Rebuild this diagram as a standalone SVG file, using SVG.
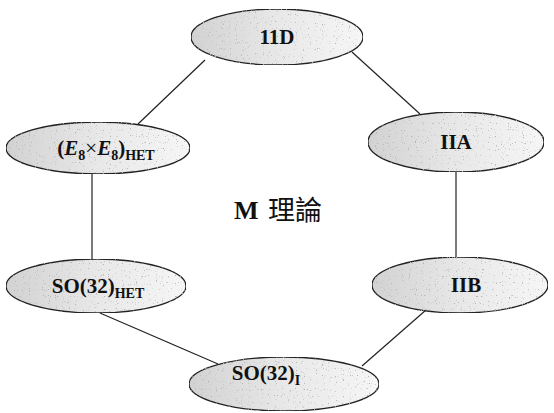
<svg xmlns="http://www.w3.org/2000/svg" width="554" height="413" viewBox="0 0 554 413">
<defs>
<linearGradient id="g" x1="0" y1="0" x2="1" y2="0">
<stop offset="0" stop-color="#d2d2d2"/>
<stop offset="0.5" stop-color="#e8e8e8"/>
<stop offset="1" stop-color="#f6f6f6"/>
</linearGradient>
<filter id="st" x="0" y="0" width="1" height="1">
<feTurbulence type="fractalNoise" baseFrequency="0.85" numOctaves="1" seed="4" result="n"/>
<feColorMatrix in="n" type="matrix" values="0 0 0 0 0.45  0 0 0 0 0.45  0 0 0 0 0.45  0 0 0 -10 3.5" result="d"/>
<feComposite in="d" in2="SourceGraphic" operator="in" result="dd"/>
<feMerge><feMergeNode in="SourceGraphic"/><feMergeNode in="dd"/></feMerge>
</filter>
<style>
.n{fill:url(#g);stroke:#222;stroke-width:1.3;filter:url(#st)}
.c{stroke:#222;stroke-width:1.2;fill:none}
.t{font-family:"Liberation Serif",serif;font-weight:bold;font-size:21px;fill:#111;text-anchor:middle}
.s{font-size:14px}
</style>
</defs>
<rect width="554" height="413" fill="#fff"/>
<g id="connectors">
<line class="c" x1="205" y1="60" x2="138" y2="124"/>
<line class="c" x1="352" y1="52" x2="420" y2="114"/>
<line class="c" x1="92" y1="174" x2="92" y2="260"/>
<line class="c" x1="456" y1="172" x2="456" y2="258"/>
<line class="c" x1="100" y1="313" x2="218" y2="364"/>
<line class="c" x1="426" y1="310" x2="362" y2="366"/>
</g>
<g id="n11D">
<ellipse class="n" cx="277" cy="37" rx="86" ry="28"/>
<text class="t" x="277" y="44">11D</text>
</g>
<g id="nE8">
<ellipse class="n" cx="98" cy="148" rx="92" ry="26"/>
<text class="t" x="106" y="155">(<tspan font-style="italic">E</tspan><tspan class="s" dy="5">8</tspan><tspan dy="-5" font-weight="normal">×</tspan><tspan font-style="italic">E</tspan><tspan class="s" dy="5">8</tspan><tspan dy="-5">)</tspan><tspan class="s" dy="5">HET</tspan></text>
</g>
<g id="nIIA">
<ellipse class="n" cx="456" cy="142" rx="88" ry="30"/>
<text class="t" x="456" y="149">IIA</text>
</g>
<g id="nHET">
<ellipse class="n" cx="96" cy="286" rx="90" ry="27"/>
<text class="t" x="98" y="293">SO(32)<tspan class="s" dy="5">HET</tspan></text>
</g>
<g id="nIIB">
<ellipse class="n" cx="460" cy="285" rx="88" ry="28"/>
<text class="t" x="466" y="292">IIB</text>
</g>
<g id="nI">
<ellipse class="n" cx="284" cy="384" rx="95" ry="27"/>
<text class="t" x="266" y="380">SO(32)<tspan class="s" dy="5">I</tspan></text>
</g>
<g id="title">
<text x="234" y="219" style="font-family:'Liberation Serif',serif;font-weight:bold;font-size:26px;fill:#111">M</text>
<text x="268" y="220" style="font-family:'Noto Sans CJK TC',sans-serif;font-size:27px;fill:#111">理論</text>
</g>
</svg>
